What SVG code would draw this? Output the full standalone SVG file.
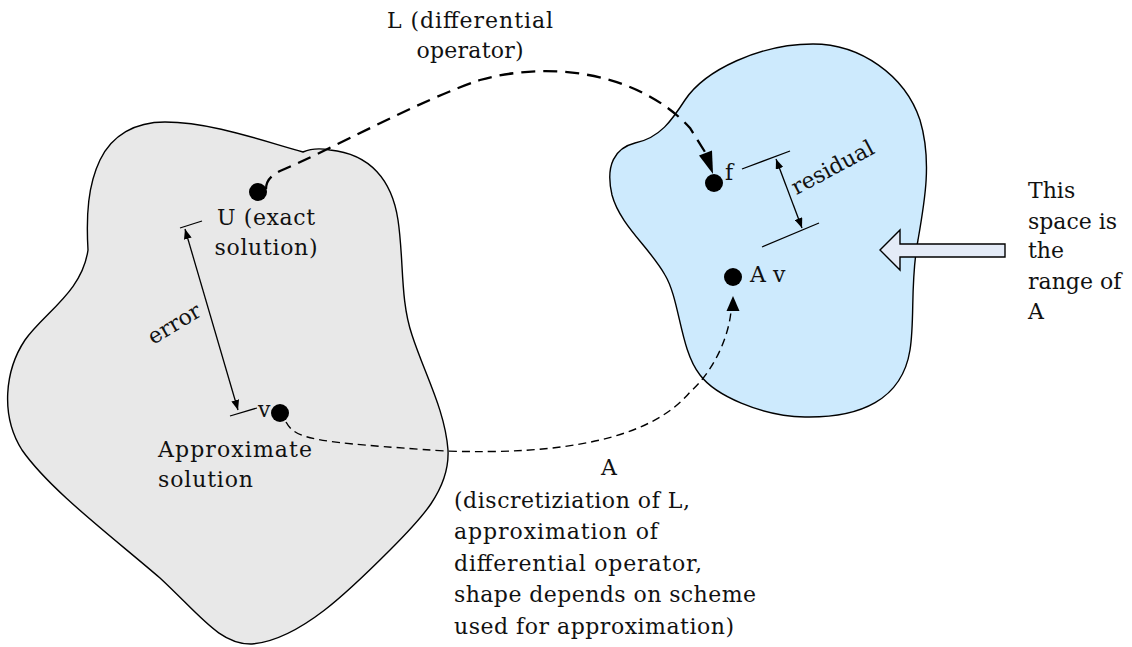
<svg xmlns="http://www.w3.org/2000/svg" width="1132" height="647" viewBox="0 0 1132 647">
<style>
.t{font-family:"DejaVu Serif","Liberation Serif",serif;font-size:22px;fill:#111}
.blob{stroke:#000;stroke-width:1.4}
.dot{fill:#000}
.thin{stroke:#000;stroke-width:1.3;fill:none}
.Lcurve{stroke:#000;stroke-width:2.3;fill:none;stroke-dasharray:14 8}
.Acurve{stroke:#000;stroke-width:1.4;fill:none;stroke-dasharray:8 5}
</style>
<defs>
<marker id="ah" viewBox="0 0 10 8" refX="10" refY="4" markerWidth="10" markerHeight="8" markerUnits="userSpaceOnUse" orient="auto-start-reverse">
<path d="M0,0 L10,4 L0,8 Z" fill="#000"/>
</marker>
</defs>
<rect width="1132" height="647" fill="#fff"/>
<g id="domain-space">
<path class="blob" fill="#e8e8e8" d="M 88 250 C 86 215, 88 185, 100 160 C 112 135, 135 122, 165 122 C 210 122, 260 140, 303 152 C 310 149, 320 148, 330 150 C 370 154, 392 180, 398 220 C 404 260, 400 300, 412 335 C 425 375, 445 410, 448 450 C 450 490, 420 520, 390 550 C 350 590, 300 640, 252 644 C 220 645, 200 615, 160 578 C 110 535, 50 490, 22 450 C 0 415, 5 370, 25 340 C 45 312, 82 292, 88 250 Z"/>
</g>
<g id="range-space">
<path class="blob" fill="#cdeafd" d="M 813 44 C 860 44, 905 75, 920 120 C 932 160, 925 200, 918 240 C 910 280, 915 320, 910 350 C 902 400, 860 418, 805 417 C 760 416, 715 395, 700 375 C 680 350, 680 300, 665 275 C 650 248, 620 225, 612 195 C 605 165, 615 148, 635 143 C 660 138, 672 120, 685 100 C 705 70, 760 44, 813 44 Z"/>
</g>
<g id="connectors">
<path class="Lcurve" d="M 266 189 C 266 180, 272 175, 280 171 C 330 150, 420 100, 480 80 C 560 58, 645 78, 690 128 L 705 152"/>
<polygon points="713,174 699,155.5 712,150.5" fill="#000"/>
<path class="Acurve" d="M 286 422 C 296 440, 315 442, 445 451 C 560 455, 650 440, 690 392 C 715 370, 729 335, 731 311"/>
<polygon points="733,296 726.5,311 739.5,311" fill="#000"/>
</g>
<g id="node-U">
<circle class="dot" cx="258" cy="192" r="9"/>
<text class="t" x="266" y="225" text-anchor="middle" textLength="98">U (exact</text>
<text class="t" x="266" y="255" text-anchor="middle" textLength="103">solution)</text>
</g>
<g id="node-v">
<circle class="dot" cx="280" cy="413" r="9"/>
<text class="t" x="258" y="417">v</text>
<text class="t" x="158" y="457" textLength="154">Approximate</text>
<text class="t" x="158" y="487" textLength="95">solution</text>
</g>
<g id="error-dim">
<line class="thin" x1="180" y1="228" x2="202" y2="221"/>
<line class="thin" x1="230" y1="416" x2="257" y2="408"/>
<line class="thin" x1="185" y1="229" x2="238" y2="410" marker-start="url(#ah)" marker-end="url(#ah)"/>
<text class="t" transform="translate(178,330) rotate(-31)" text-anchor="middle">error</text>
</g>
<g id="node-f">
<circle class="dot" cx="714" cy="183" r="9"/>
<text class="t" x="725" y="180">f</text>
</g>
<g id="node-Av">
<circle class="dot" cx="733" cy="277" r="9"/>
<text class="t" x="750" y="282">A v</text>
</g>
<g id="residual-dim">
<line class="thin" x1="742" y1="169" x2="790" y2="151"/>
<line class="thin" x1="762" y1="247" x2="819" y2="223"/>
<line class="thin" x1="776" y1="159" x2="802" y2="228" marker-start="url(#ah)" marker-end="url(#ah)"/>
<text class="t" transform="translate(836,174) rotate(-28)" text-anchor="middle">residual</text>
</g>
<g id="range-arrow">
<polygon points="880,250 900,230 900,244 1005,244 1005,257 900,257 900,270" fill="#e4ebf7" stroke="#000" stroke-width="1.4"/>
<text class="t" x="1028" y="198">This</text>
<text class="t" x="1028" y="229">space is</text>
<text class="t" x="1028" y="258">the</text>
<text class="t" x="1028" y="289">range of</text>
<text class="t" x="1028" y="319">A</text>
</g>
<g id="label-L">
<text class="t" x="470" y="28" text-anchor="middle" textLength="166">L (differential</text>
<text class="t" x="470" y="58" text-anchor="middle" textLength="107">operator)</text>
</g>
<g id="label-A">
<text class="t" x="609" y="475" text-anchor="middle">A</text>
<text class="t" x="454" y="507.5" textLength="236">(discretiziation of L,</text>
<text class="t" x="454" y="539" textLength="204">approximation of</text>
<text class="t" x="454" y="570.7" textLength="248">differential operator,</text>
<text class="t" x="454" y="602.3" textLength="302">shape depends on scheme</text>
<text class="t" x="454" y="634" textLength="280">used for approximation)</text>
</g>
</svg>
